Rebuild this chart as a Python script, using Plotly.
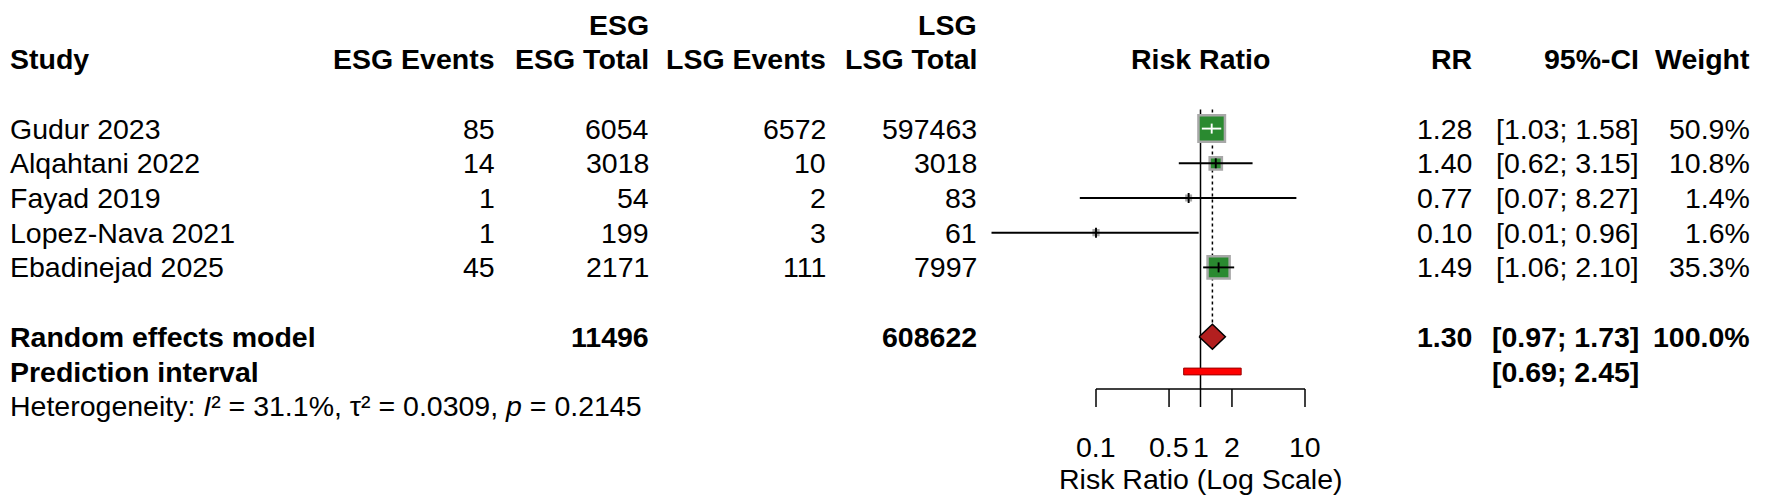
import math
import plotly.graph_objects as go

# ---- data ----
studies = ["Gudur 2023", "Alqahtani 2022", "Fayad 2019", "Lopez-Nava 2021", "Ebadinejad 2025"]
esg_events = [85, 14, 1, 1, 45]
esg_total = [6054, 3018, 54, 199, 2171]
lsg_events = [6572, 10, 2, 3, 111]
lsg_total = [597463, 3018, 83, 61, 7997]
rr = [1.28, 1.40, 0.77, 0.10, 1.49]
ci_low = [1.03, 0.62, 0.07, 0.01, 1.06]
ci_high = [1.58, 3.15, 8.27, 0.96, 2.10]
weight = [50.9, 10.8, 1.4, 1.6, 35.3]

model_label = "Random effects model"
model_esg_total = 11496
model_lsg_total = 608622
model_rr = 1.30
model_low = 0.97
model_high = 1.73
model_weight = 100.0
pi_label = "Prediction interval"
pi_low = 0.69
pi_high = 2.45
i2 = 31.1
tau2 = 0.0309
p_het = 0.2145

tick_vals = [0.1, 0.5, 1, 2, 10]
tick_text = ["0.1", "0.5", "1", "2", "10"]
axis_title = "Risk Ratio (Log Scale)"

# ---- layout constants (pixels) ----
W, H = 1772, 499
X1_PX = 1200.5          # pixel of RR = 1
DECADE_PX = 104.5       # pixels per log10 unit
ROW0, ROW = 24.5, 34.7  # first header row centre, row pitch
FONT = "Arial, Liberation Sans, sans-serif"
FS = 28.5
GREEN = "#2A8A30"


def row_y(k):
    return ROW0 + ROW * k


col_right = {"esg_ev": 497, "esg_tot": 651, "lsg_ev": 828, "lsg_tot": 979,
             "rr": 1474, "ci": 1641, "w": 1752}
study_left = 8

fig = go.Figure()
ann = []


def txt(x_px, y, s, anchor="right", bold=False, size=FS):
    ann.append(dict(x=x_px / W, xref="paper", y=y, yref="y", text=f"<b>{s}</b>" if bold else s,
                    showarrow=False, xanchor=anchor, yanchor="middle",
                    font=dict(family=FONT, size=size, color="black")))


def txt_at(v, y, s, bold=False):
    # centred on a risk-ratio value of the log axis (annotation x is log10 there)
    ann.append(dict(x=math.log10(v), xref="x", y=y, yref="y", text=f"<b>{s}</b>" if bold else s,
                    showarrow=False, xanchor="center", yanchor="middle",
                    font=dict(family=FONT, size=FS, color="black")))


# headers
txt(col_right["esg_tot"], row_y(0), "ESG", bold=True)
txt(col_right["lsg_tot"], row_y(0), "LSG", bold=True)
hy = row_y(1)
txt(study_left, hy, "Study", anchor="left", bold=True)
txt(col_right["esg_ev"], hy, "ESG Events", bold=True)
txt(col_right["esg_tot"], hy, "ESG Total", bold=True)
txt(col_right["lsg_ev"], hy, "LSG Events", bold=True)
txt(col_right["lsg_tot"], hy, "LSG Total", bold=True)
txt_at(1, hy, "Risk Ratio", bold=True)
txt(col_right["rr"], hy, "RR", bold=True)
txt(col_right["ci"], hy, "95%-CI", bold=True)
txt(col_right["w"], hy, "Weight", bold=True)

# study rows
ys = [row_y(3 + i) for i in range(len(studies))]
for i, name in enumerate(studies):
    y = ys[i]
    txt(study_left, y, name, anchor="left")
    txt(col_right["esg_ev"], y, str(esg_events[i]))
    txt(col_right["esg_tot"], y, str(esg_total[i]))
    txt(col_right["lsg_ev"], y, str(lsg_events[i]))
    txt(col_right["lsg_tot"], y, str(lsg_total[i]))
    txt(col_right["rr"], y, f"{rr[i]:.2f}")
    txt(col_right["ci"], y, f"[{ci_low[i]:.2f}; {ci_high[i]:.2f}]")
    txt(col_right["w"], y, f"{weight[i]:.1f}%")

# summary rows
ym = row_y(9)
yp = row_y(10)
yh = row_y(11)
txt(study_left, ym, model_label, anchor="left", bold=True)
txt(col_right["esg_tot"], ym, str(model_esg_total), bold=True)
txt(col_right["lsg_tot"], ym, str(model_lsg_total), bold=True)
txt(col_right["rr"], ym, f"{model_rr:.2f}", bold=True)
txt(col_right["ci"], ym, f"[{model_low:.2f}; {model_high:.2f}]", bold=True)
txt(col_right["w"], ym, f"{model_weight:.1f}%", bold=True)
txt(study_left, yp, pi_label, anchor="left", bold=True)
txt(col_right["ci"], yp, f"[{pi_low:.2f}; {pi_high:.2f}]", bold=True)
txt(study_left, yh, f"Heterogeneity: <i>I</i>\u00b2 = {i2:.1f}%, \u03c4\u00b2 = {tau2:.4f}, "
    f"<i>p</i> = {p_het:.4f}", anchor="left")

# reference lines
line_top = row_y(3) - 19
axis_y = 389
fig.add_trace(go.Scatter(x=[1, 1], y=[line_top, axis_y], mode="lines",
                         line=dict(color="black", width=1.5), hoverinfo="skip"))
diamond_h = 12.5
fig.add_trace(go.Scatter(x=[model_rr, model_rr], y=[line_top, ym - diamond_h], mode="lines",
                         line=dict(color="black", width=1.5, dash="dot"), hoverinfo="skip"))

# squares sized by weight
max_w = max(weight)
sizes = [26.5 * math.sqrt(w / max_w) for w in weight]
fig.add_trace(go.Scatter(x=rr, y=ys, mode="markers", hoverinfo="skip",
                         marker=dict(symbol="square", size=sizes, color=GREEN, opacity=1,
                                     line=dict(color="#A8A8A8", width=2.5))))


def x_px(v):
    return X1_PX + DECADE_PX * math.log10(v)


# CI lines: white when hidden inside the square
for i in range(len(studies)):
    half = sizes[i] / 2
    inside = x_px(ci_low[i]) >= x_px(rr[i]) - half and x_px(ci_high[i]) <= x_px(rr[i]) + half
    col = "white" if inside else "black"
    fig.add_trace(go.Scatter(x=[ci_low[i], ci_high[i], None, rr[i], rr[i]],
                             y=[ys[i], ys[i], None, ys[i] - 5, ys[i] + 5], mode="lines",
                             line=dict(color=col, width=1.9), hoverinfo="skip"))

# pooled diamond
fig.add_trace(go.Scatter(x=[model_low, model_rr, model_high, model_rr, model_low],
                         y=[ym, ym - diamond_h, ym, ym + diamond_h, ym], mode="lines",
                         fill="toself", fillcolor="#B21F1F",
                         line=dict(color="black", width=1.5), hoverinfo="skip"))

# prediction interval bar
ph = 3.4
fig.add_trace(go.Scatter(x=[pi_low, pi_high, pi_high, pi_low, pi_low],
                         y=[yp - ph, yp - ph, yp + ph, yp + ph, yp - ph], mode="lines",
                         fill="toself", fillcolor="#FF0000",
                         line=dict(color="#9A0000", width=1), hoverinfo="skip"))

# hand-drawn x axis between the outer ticks
ax_x, ax_y = [tick_vals[0], tick_vals[-1], None], [axis_y, axis_y, None]
for t in tick_vals:
    ax_x += [t, t, None]
    ax_y += [axis_y, axis_y + 18, None]
fig.add_trace(go.Scatter(x=ax_x, y=ax_y, mode="lines", line=dict(color="black", width=1.5),
                         hoverinfo="skip"))
for t, lab in zip(tick_vals, tick_text):
    txt_at(t, 447, lab)
txt_at(1, 479, axis_title)

fig.update_layout(
    width=W, height=H,
    margin=dict(l=0, r=0, t=0, b=0),
    paper_bgcolor="white", plot_bgcolor="white",
    showlegend=False,
    annotations=ann,
    xaxis=dict(type="log", range=[(0 - X1_PX) / DECADE_PX, (W - X1_PX) / DECADE_PX],
               visible=False, fixedrange=True),
    yaxis=dict(range=[H, 0], visible=False, fixedrange=True),
)

# drop the page's default body margin so the figure sits at the window corner
fig.write_html("out.html", config={"displayModeBar": False},
               post_script="document.body.style.margin='0';document.body.style.overflow='hidden';")
